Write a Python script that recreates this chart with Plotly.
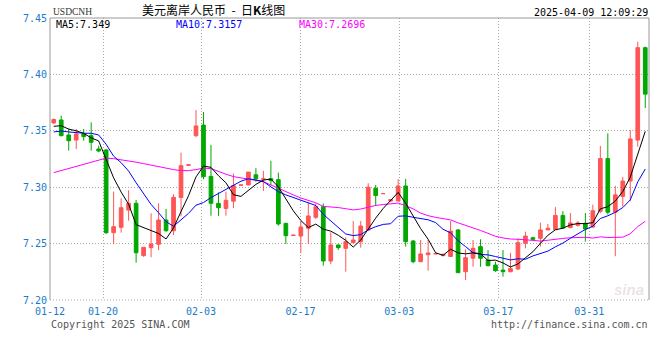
import plotly.graph_objects as go

# ---------------- data ----------------
opens = [7.3570, 7.3596, 7.3463, 7.3418, 7.3472, 7.3457, 7.3339, 7.3330, 7.2597, 7.2644,
         7.2797, 7.2857, 7.2393, 7.2464, 7.2494, 7.2709, 7.2614, 7.2909, 7.3195, 7.3457,
         7.3551, 7.3096, 7.2857, 7.2812, 7.2876, 7.3018, 7.3020, 7.3110, 7.3070, 7.3076,
         7.3067, 7.2680, 7.2572, 7.2567, 7.2636, 7.2733, 7.2827, 7.2346, 7.2488, 7.2458,
         7.2508, 7.2517, 7.2621, 7.2991, 7.2942, 7.2878, 7.2878, 7.3011, 7.2523, 7.2340,
         7.2402, 7.2409, 7.2394, 7.2386, 7.2621, 7.2251, 7.2371, 7.2473, 7.2355, 7.2310,
         7.2265, 7.2251, 7.2275, 7.2503, 7.2552, 7.2547, 7.2621, 7.2624, 7.2750, 7.2642,
         7.2662, 7.2680, 7.2647, 7.2787, 7.3254, 7.2778, 7.2918, 7.3055, 7.3418, 7.4237]
highs = [7.3610, 7.3634, 7.3520, 7.3516, 7.3516, 7.3575, 7.3368, 7.3340, 7.2961, 7.2901,
         7.2973, 7.2887, 7.2470, 7.2769, 7.2857, 7.2807, 7.2938, 7.3306, 7.3199, 7.3684,
         7.3666, 7.3376, 7.2954, 7.2960, 7.3121, 7.3021, 7.3134, 7.3169, 7.3145, 7.3234,
         7.3130, 7.2680, 7.2576, 7.2700, 7.2863, 7.2857, 7.2857, 7.2600, 7.2490, 7.2556,
         7.2700, 7.2700, 7.3035, 7.3020, 7.2946, 7.2893, 7.3071, 7.3073, 7.2532, 7.2532,
         7.2532, 7.2412, 7.2410, 7.2700, 7.2630, 7.2449, 7.2532, 7.2538, 7.2443, 7.2340,
         7.2443, 7.2418, 7.2547, 7.2605, 7.2561, 7.2686, 7.2674, 7.2823, 7.2788, 7.2771,
         7.2700, 7.2771, 7.2845, 7.3366, 7.3478, 7.3012, 7.3092, 7.3507, 7.4290, 7.4246]
lows = [7.3560, 7.3450, 7.3324, 7.3338, 7.3412, 7.3324, 7.3310, 7.2585, 7.2494, 7.2597,
        7.2703, 7.2331, 7.2384, 7.2379, 7.2443, 7.2605, 7.2576, 7.2742, 7.3194, 7.3444,
        7.3070, 7.2747, 7.2745, 7.2748, 7.2814, 7.3017, 7.3016, 7.3048, 7.2967, 7.3016,
        7.2659, 7.2496, 7.2571, 7.2419, 7.2496, 7.2719, 7.2304, 7.2317, 7.2443, 7.2251,
        7.2505, 7.2464, 7.2610, 7.2833, 7.2940, 7.2870, 7.2876, 7.2473, 7.2325, 7.2335,
        7.2260, 7.2408, 7.2385, 7.2386, 7.2242, 7.2177, 7.2295, 7.2295, 7.2300, 7.2250,
        7.2207, 7.2245, 7.2266, 7.2458, 7.2526, 7.2473, 7.2621, 7.2620, 7.2630, 7.2635,
        7.2650, 7.2517, 7.2640, 7.2770, 7.2757, 7.2388, 7.2829, 7.2876, 7.3358, 7.3701]
closes = [7.3600, 7.3457, 7.3412, 7.3472, 7.3448, 7.3398, 7.3321, 7.2597, 7.2650, 7.2818,
          7.2857, 7.2419, 7.2467, 7.2496, 7.2709, 7.2614, 7.2910, 7.3191, 7.3198, 7.3543,
          7.3093, 7.2857, 7.2818, 7.2884, 7.3014, 7.3020, 7.3134, 7.3074, 7.3074, 7.3058,
          7.2674, 7.2570, 7.2575, 7.2647, 7.2745, 7.2827, 7.2346, 7.2488, 7.2464, 7.2517,
          7.2532, 7.2656, 7.3000, 7.2926, 7.2944, 7.2890, 7.3011, 7.2517, 7.2340, 7.2408,
          7.2417, 7.2411, 7.2405, 7.2611, 7.2242, 7.2375, 7.2458, 7.2370, 7.2304, 7.2260,
          7.2251, 7.2278, 7.2508, 7.2567, 7.2538, 7.2621, 7.2636, 7.2750, 7.2638, 7.2683,
          7.2683, 7.2630, 7.2791, 7.3254, 7.2778, 7.2932, 7.3055, 7.3428, 7.4237, 7.3825]

# moving-average values before enough candles exist in the window
ma5_head = [7.3540, 7.3545, 7.3515, 7.3500]
ma10_head = [7.3490, 7.3498, 7.3490, 7.3483, 7.3478, 7.3478, 7.3463, 7.3380, 7.3275]
ma30_head = [7.3129, 7.3147, 7.3165, 7.3182, 7.3200, 7.3221, 7.3240, 7.3258, 7.3253, 7.3244,
             7.3235, 7.3222, 7.3209, 7.3195, 7.3182, 7.3171, 7.3156, 7.3147, 7.3147, 7.3156,
             7.3169, 7.3165, 7.3138, 7.3115, 7.3094, 7.3081, 7.3071, 7.3062, 7.3048]

tick_labels = ["01-12", "01-20", "02-03", "02-17", "03-03", "03-17", "03-31"]
tick_pos = [-0.5, 6.58, 19.67, 32.96, 46.15, 59.37, 71.53]
y_ticks = [7.20, 7.25, 7.30, 7.35, 7.40, 7.45]

title_text = "美元离岸人民币&nbsp;&nbsp;-&nbsp;&nbsp;日<b>K</b>线图"
symbol_text = "USDCNH"
time_text = "2025-04-09 12:09:29"
ma_texts = ["MA5:7.349", "MA10:7.3157", "MA30:7.2696"]
copyright_text = "Copyright 2025 SINA.COM"
url_text = "http://finance.sina.com.cn"

# ---------------- helpers ----------------
n = len(closes)
x = list(range(n))


def rolling(vals, w, head):
    out = list(head)
    for i in range(w - 1, len(vals)):
        out.append(sum(vals[i - w + 1:i + 1]) / w)
    return out


ma5 = rolling(closes, 5, ma5_head)
ma10 = rolling(closes, 10, ma10_head)
ma30 = rolling(closes, 30, ma30_head)

W, H = 660, 360
L, R, T, B = 50, 11, 18, 60
PW, PH = W - L - R, H - T - B


def px(xp, yp):
    return (xp - L) / PW, (H - B - yp) / PH


RED = "#ff5555"
GREEN = "#00a800"
MONO = "DejaVu Sans Mono"
AXIS_BLUE = "#1a7cc8"

fig = go.Figure()
fig.add_trace(go.Candlestick(
    x=x, open=opens, high=highs, low=lows, close=closes,
    increasing=dict(line=dict(color=RED, width=1), fillcolor=RED),
    decreasing=dict(line=dict(color=GREEN, width=1), fillcolor=GREEN),
    whiskerwidth=0, showlegend=False, hoverinfo="skip"))
fig.add_trace(go.Scatter(x=x, y=ma30, mode="lines", line=dict(color="#ff00ff", width=1),
                         showlegend=False, hoverinfo="skip"))
fig.add_trace(go.Scatter(x=x, y=ma10, mode="lines", line=dict(color="#0000ff", width=1),
                         showlegend=False, hoverinfo="skip"))
fig.add_trace(go.Scatter(x=x, y=ma5, mode="lines", line=dict(color="#000000", width=1),
                         showlegend=False, hoverinfo="skip"))

grid = dict(showgrid=True, gridcolor="#a8a8a8", gridwidth=1, griddash="1px,2px",
            zeroline=False, showline=False, ticks="")
fig.update_xaxes(range=[-0.5, n - 0.5], tickmode="array", tickvals=tick_pos,
                 ticktext=tick_labels, rangeslider=dict(visible=False),
                 ticklabelstandoff=4,
                 tickfont=dict(family=MONO, size=10, color=AXIS_BLUE), **grid)
fig.update_yaxes(range=[y_ticks[0], y_ticks[-1]], tickmode="array", tickvals=y_ticks,
                 ticktext=[f"{v:.2f}" for v in y_ticks], ticklabelstandoff=2,
                 tickfont=dict(family=MONO, size=10, color=AXIS_BLUE), **grid)

shapes = [
    dict(type="line", xref="paper", yref="paper", x0=0, x1=0, y0=0, y1=1,
         line=dict(color="#999999", width=1)),
    dict(type="line", xref="paper", yref="paper", x0=0, x1=1, y0=1, y1=1,
         line=dict(color="#999999", width=1)),
    dict(type="line", xref="paper", yref="paper", x0=1, x1=1, y0=0, y1=1,
         line=dict(color="#999999", width=1)),
    dict(type="line", xref="paper", yref="paper", x0=0, x1=1, y0=0, y1=0,
         line=dict(color="#a8a8a8", width=1, dash="1px,2px")),
]

annots = []


def note(text, xp, yp, xanchor, color, family, size):
    ax, ay = px(xp, yp)
    annots.append(dict(text=text, x=ax, y=ay, xref="paper", yref="paper",
                       xanchor=xanchor, yanchor="middle", showarrow=False,
                       font=dict(family=family, size=size, color=color)))


note(title_text, 140, 10, "left", "#000000", "Noto Sans CJK SC", 12)
note(symbol_text, 51, 12, "left", "#333333", "Liberation Serif", 9.5)
note(time_text, 650, 12, "right", "#000000", MONO, 10)
note(ma_texts[0], 54, 24, "left", "#000000", MONO, 10)
note(ma_texts[1], 174, 24, "left", "#0000ff", MONO, 10)
note(ma_texts[2], 297, 24, "left", "#ff00ff", MONO, 10)
note(copyright_text, 49, 324, "left", "#555555", MONO, 10)
note(url_text, 650, 324, "right", "#555555", MONO, 10)
note("<i><b>sina</b></i>", 646, 289, "right", "rgba(215,200,200,0.5)", "Liberation Sans", 15)

fig.update_layout(width=W, height=H, margin=dict(l=L, r=R, t=T, b=B),
                  paper_bgcolor="white", plot_bgcolor="white",
                  shapes=shapes, annotations=annots, showlegend=False)

fig.write_html("out.html")
